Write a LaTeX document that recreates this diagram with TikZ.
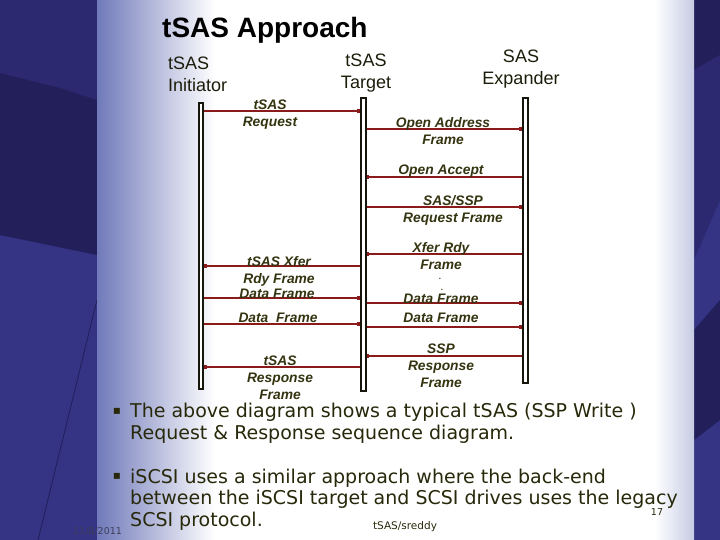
\documentclass[tikz,border=0pt]{standalone}
\usepackage{fontspec}
\setmainfont{Liberation Sans}
\newfontfamily\verd{DejaVu Sans}
\usetikzlibrary{arrows.meta}
\definecolor{bgbase}{RGB}{52,51,132}
\definecolor{bgtop}{RGB}{45,41,112}
\definecolor{bgdark}{RGB}{35,31,90}
\definecolor{panelblue}{RGB}{112,122,186}
\definecolor{panelright}{RGB}{198,203,228}
\definecolor{msgred}{RGB}{139,26,26}
\definecolor{lifeblack}{RGB}{22,22,12}
\definecolor{labelcol}{RGB}{52,52,16}
\definecolor{headcol}{RGB}{28,28,10}
\definecolor{bodycol}{RGB}{40,40,10}
\definecolor{datecol}{RGB}{62,62,92}
\tikzset{
  lifeline/.style={draw=lifeblack, line width=2pt, fill=white, inner sep=0pt, minimum width=4.8pt},
  msg/.style={draw=msgred, line width=1.6pt, -{Square[length=2.6pt,width=3.4pt]}},
  lbl/.style={font=\bfseries\itshape\fontsize{13.8}{17}\selectfont, text=labelcol, inner sep=0pt, align=center, anchor=north},
  head/.style={font=\fontsize{18}{22}\selectfont, text=headcol, inner sep=0pt, align=center, anchor=north},
  body/.style={font=\verd\fontsize{19}{22.5}\selectfont, text=bodycol, inner sep=0pt, align=left, anchor=north west},
  bul/.style={font=\verd\fontsize{12}{12}\selectfont, text=bodycol, inner sep=0pt},
  dotlbl/.style={font=\bfseries\fontsize{8}{8}\selectfont, text=labelcol, inner sep=0pt}
}
\begin{document}
\begin{tikzpicture}[x=1pt,y=-1pt]
\useasboundingbox (0,0) rectangle (720,540);
% background
\fill[bgbase] (0,0) rectangle (720,540);
\fill[bgtop] (0,0) -- (97,0) -- (97,100) -- (60,88) -- (0,73) -- cycle;
\fill[bgdark] (0,73) -- (60,88) -- (97,100) -- (97,255) -- (0,235) -- cycle;
\draw[bgdark, line width=0.8pt] (38,540) -- (97,300);
\fill[bgdark] (694,0) -- (720,0) -- (720,55) -- (694,70) -- cycle;
\fill[bgtop] (694,70) -- (720,55) -- (720,200) -- (694,260) -- cycle;
\fill[bgdark] (694,330) -- (720,300) -- (720,420) -- (694,440) -- cycle;
% panel
\fill[white] (97,0) rectangle (694,540);
\shade[left color=panelblue, right color=white] (97,0) rectangle (215,540);
\shade[left color=white, right color=panelright] (655,0) rectangle (694,540);
% title
\node[font=\bfseries\fontsize{28}{30}\selectfont, inner sep=0pt, anchor=base west] (title) at (162,38) {tSAS Approach};
% headings
\node[head, align=left, anchor=north west] (hini) at (168,57) {tSAS\\Initiator};
\node[head] (htgt) at (366,54) {tSAS\\Target};
\node[head] (hexp) at (521,50) {SAS\\Expander};
% lifelines
\node[lifeline, minimum height=286pt] (ini) at (201,246) {};
\node[lifeline, minimum height=293pt] (tgt) at (363.3,244.5) {};
\node[lifeline, minimum height=285pt] (exp) at (525.4,240.5) {};
% messages
\draw[msg] (ini.east |- 0,111) -- (tgt.west |- 0,111);
\draw[msg] (tgt.east |- 0,129) -- (exp.west |- 0,129);
\draw[msg] (exp.west |- 0,177) -- (tgt.east |- 0,177);
\draw[msg] (tgt.east |- 0,207) -- (exp.west |- 0,207);
\draw[msg] (exp.west |- 0,254) -- (tgt.east |- 0,254);
\draw[msg] (tgt.west |- 0,266) -- (ini.east |- 0,266);
\draw[msg] (ini.east |- 0,298) -- (tgt.west |- 0,298);
\draw[msg] (ini.east |- 0,324) -- (tgt.west |- 0,324);
\draw[msg] (tgt.east |- 0,303) -- (exp.west |- 0,303);
\draw[msg] (tgt.east |- 0,327) -- (exp.west |- 0,327);
\draw[msg] (exp.west |- 0,356) -- (tgt.east |- 0,356);
\draw[msg] (tgt.west |- 0,367) -- (ini.east |- 0,367);
% labels
\node[lbl] (l1) at (270,100) {tSAS\\Request};
\node[lbl] (l2) at (443,117.5) {Open Address\\Frame};
\node[lbl] (l3) at (441,165) {Open Accept};
\node[lbl] (l4) at (453,195) {SAS/SSP\\Request Frame};
\node[lbl] (l5) at (441,242) {Xfer Rdy\\Frame};
\node[lbl] (l6) at (279,256) {tSAS Xfer\\Rdy Frame};
\node[lbl] (l7) at (277,289) {Data Frame};
\node[lbl] (l8) at (278,313) {Data\ \ Frame};
\node[lbl] (l9) at (441,294) {Data Frame};
\node[lbl] (l10) at (441,313) {Data Frame};
\node[lbl] (l11) at (441,344) {SSP\\Response\\Frame};
\node[lbl] (l12) at (280,356) {tSAS\\Response\\Frame};
\node[dotlbl] (dot1) at (440,278.5) {.};
\node[dotlbl] (dot2) at (442,289.5) {.};
% bullets
\node[bul] (bu1) at (117,411) {▪};
\node[body] (b1) at (130,402.6) {The above diagram shows a typical tSAS (SSP Write )\\Request \& Response sequence diagram.};
\node[bul] (bu2) at (117,476) {▪};
\node[body, font=\verd\fontsize{19}{21.5}\selectfont] (b2) at (130,468.6) {iSCSI uses a similar approach where the back-end\\between the iSCSI target and SCSI drives uses the legacy\\SCSI protocol.};
% footer
\node[font=\verd\fontsize{10.5}{11}\selectfont, text=bodycol, inner sep=0pt] (ft) at (405,527) {tSAS/sreddy};
\node[font=\verd\fontsize{9.5}{10}\selectfont, text=bodycol, inner sep=0pt] (pg) at (657,512) {17};
\node[font=\verd\fontsize{9.5}{10}\selectfont, text=datecol, inner sep=0pt, anchor=base west] (dt) at (73,534) {11/8/2011};
\end{tikzpicture}
\end{document}
